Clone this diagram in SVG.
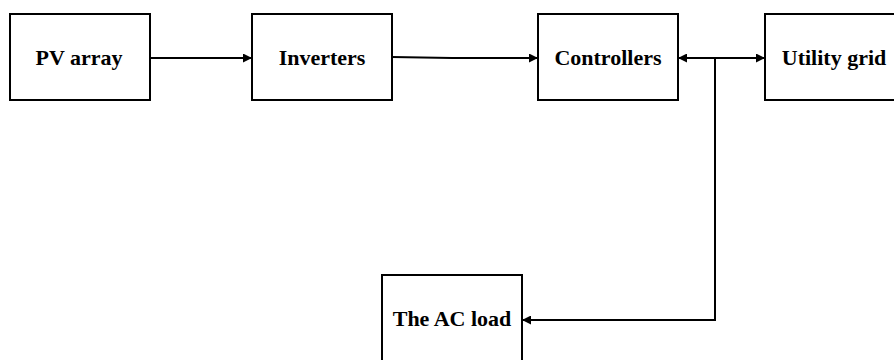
<svg xmlns="http://www.w3.org/2000/svg" width="894" height="360" viewBox="0 0 894 360">
<style>
.box{fill:#fff;stroke:#000;stroke-width:2}
.lbl{font-family:"Liberation Serif","Times New Roman",serif;font-weight:bold;font-size:22px;fill:#000;text-anchor:middle}
.con{fill:none;stroke:#000;stroke-width:2}
</style>
<defs>
<marker id="ah" viewBox="0 0 10 10" refX="10" refY="5" markerWidth="9" markerHeight="9" orient="auto-start-reverse" markerUnits="userSpaceOnUse">
<path d="M0,0 L10,5 L0,10 z" fill="#000"/>
</marker>
</defs>
<rect width="894" height="360" fill="#fff"/>
<g id="connectors">
<path class="con" d="M150,58 H252" marker-end="url(#ah)"/>
<path class="con" d="M392,57 L452,58 H538" marker-end="url(#ah)"/>
<path class="con" d="M678,58 H765" marker-start="url(#ah)" marker-end="url(#ah)"/>
<path class="con" d="M715,58 V320 H522" marker-end="url(#ah)"/>
</g>
<g id="pv"><rect class="box" x="10" y="14" width="140" height="86"/><text class="lbl" x="79" y="65">PV array</text></g>
<g id="inv"><rect class="box" x="252" y="14" width="140" height="86"/><text class="lbl" x="322" y="65">Inverters</text></g>
<g id="ctrl"><rect class="box" x="538" y="14" width="140" height="86"/><text class="lbl" x="608" y="65">Controllers</text></g>
<g id="grid"><rect class="box" x="765" y="14" width="140" height="86"/><text class="lbl" x="834" y="65">Utility grid</text></g>
<g id="load"><rect class="box" x="382" y="275" width="140" height="90"/><text class="lbl" x="452" y="326">The AC load</text></g>
</svg>
